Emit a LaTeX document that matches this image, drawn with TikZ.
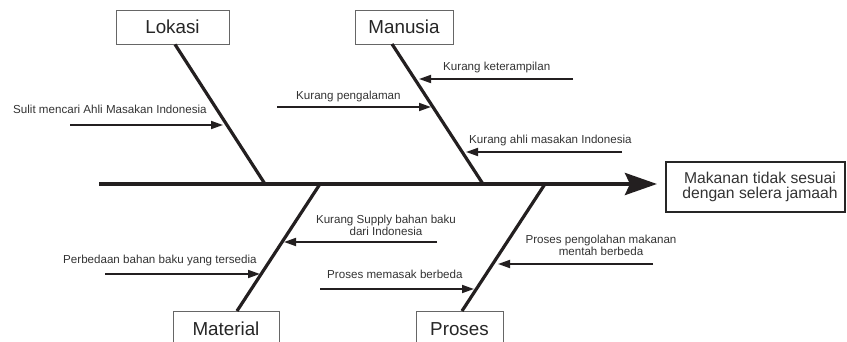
\documentclass[tikz,border=0pt]{standalone}
\usepackage{fontspec}
\setmainfont{Liberation Sans}
\usetikzlibrary{arrows.meta}
\definecolor{ink}{HTML}{231F20}
\definecolor{txt}{HTML}{333333}
\begin{document}
\begin{tikzpicture}[x=1pt,y=-1pt,
  catbox/.style={draw=black!60,line width=0.8pt,fill=white,minimum height=34pt,inner sep=0pt,font=\fontsize{18.8}{20}\selectfont,text=black!85},
  effbox/.style={draw=black!85,line width=1.1pt,minimum width=179pt,minimum height=50pt,align=center,inner sep=0pt,font=\fontsize{15.7}{14.5}\selectfont,text=black!80},
  bone/.style={draw=ink,line width=3.2pt},
  spine/.style={draw=ink,line width=4pt,-{Stealth[length=32pt,width=22pt,inset=5pt]}},
  cause/.style={draw=ink,line width=1.7pt,-{Triangle[length=12pt,width=8pt]}},
  lbl/.style={inner sep=0pt,font=\fontsize{11.6}{10.8}\selectfont,text=txt}]
\useasboundingbox (0,0) rectangle (847,342);
% effect
\node[effbox] (eff) at (755.5,187) {\hspace*{9pt}Makanan tidak sesuai\\\hspace*{9pt}dengan selera jamaah};
% spine
\coordinate (tail) at (99,184);
\coordinate (head) at (657,184);
\draw[spine] (tail) -- (head);
% category boxes
\node[catbox,minimum width=113pt] (lok) at (172.5,27) {Lokasi};
\node[catbox,minimum width=98pt] (man) at (404,27) {Manusia};
\node[catbox,minimum width=106pt,minimum height=36pt] (mat) at (226,329) {Material};
\node[catbox,minimum width=87pt,minimum height=36pt] (pro) at (459.5,329) {Proses};
% bone joints
\coordinate (jL) at (265,184);
\coordinate (jM) at (483,184);
\coordinate (jT) at (320,184);
\coordinate (jP) at (545,184);
\coordinate (mS) at (392,44);
\coordinate (tS) at (237,311);
\coordinate (pS) at (462,311);
\draw[bone] (lok.south) ++(2.5,0) -- (jL);
\draw[bone] (mS) -- (jM);
\draw[bone] (tS) -- (jT);
\draw[bone] (pS) -- (jP);
% causes: Lokasi
\coordinate (a1) at (70,125); \coordinate (b1) at (223,125);
\draw[cause] (a1) -- (b1);
\node[lbl,anchor=base west] (t1) at (13,114) {Sulit mencari Ahli Masakan Indonesia};
% causes: Manusia
\coordinate (a2) at (573,79); \coordinate (b2) at (419,79);
\draw[cause] (a2) -- (b2);
\node[lbl,anchor=base west] (t2) at (443,71) {Kurang keterampilan};
\coordinate (a3) at (277,107); \coordinate (b3) at (431,107);
\draw[cause] (a3) -- (b3);
\node[lbl,anchor=base west] (t3) at (296,100) {Kurang pengalaman};
\coordinate (a4) at (622,152); \coordinate (b4) at (466,152);
\draw[cause] (a4) -- (b4);
\node[lbl,anchor=base west] (t4) at (469,144) {Kurang ahli masakan Indonesia};
% causes: Material
\coordinate (a5) at (437,242); \coordinate (b5) at (284,242);
\draw[cause] (a5) -- (b5);
\node[lbl,align=center] (t5) at (386,225) {Kurang Supply bahan baku\\dari Indonesia};
\coordinate (a6) at (105,274); \coordinate (b6) at (260,274);
\draw[cause] (a6) -- (b6);
\node[lbl,anchor=base west] (t6) at (63,263) {Perbedaan bahan baku yang tersedia};
% causes: Proses
\coordinate (a7) at (653,264); \coordinate (b7) at (498,264);
\draw[cause] (a7) -- (b7);
\node[lbl,align=center] (t7) at (601,245) {Proses pengolahan makanan\\mentah berbeda};
\coordinate (a8) at (320,289); \coordinate (b8) at (474,289);
\draw[cause] (a8) -- (b8);
\node[lbl,anchor=base west] (t8) at (327,279) {Proses memasak berbeda};
\end{tikzpicture}
\end{document}
